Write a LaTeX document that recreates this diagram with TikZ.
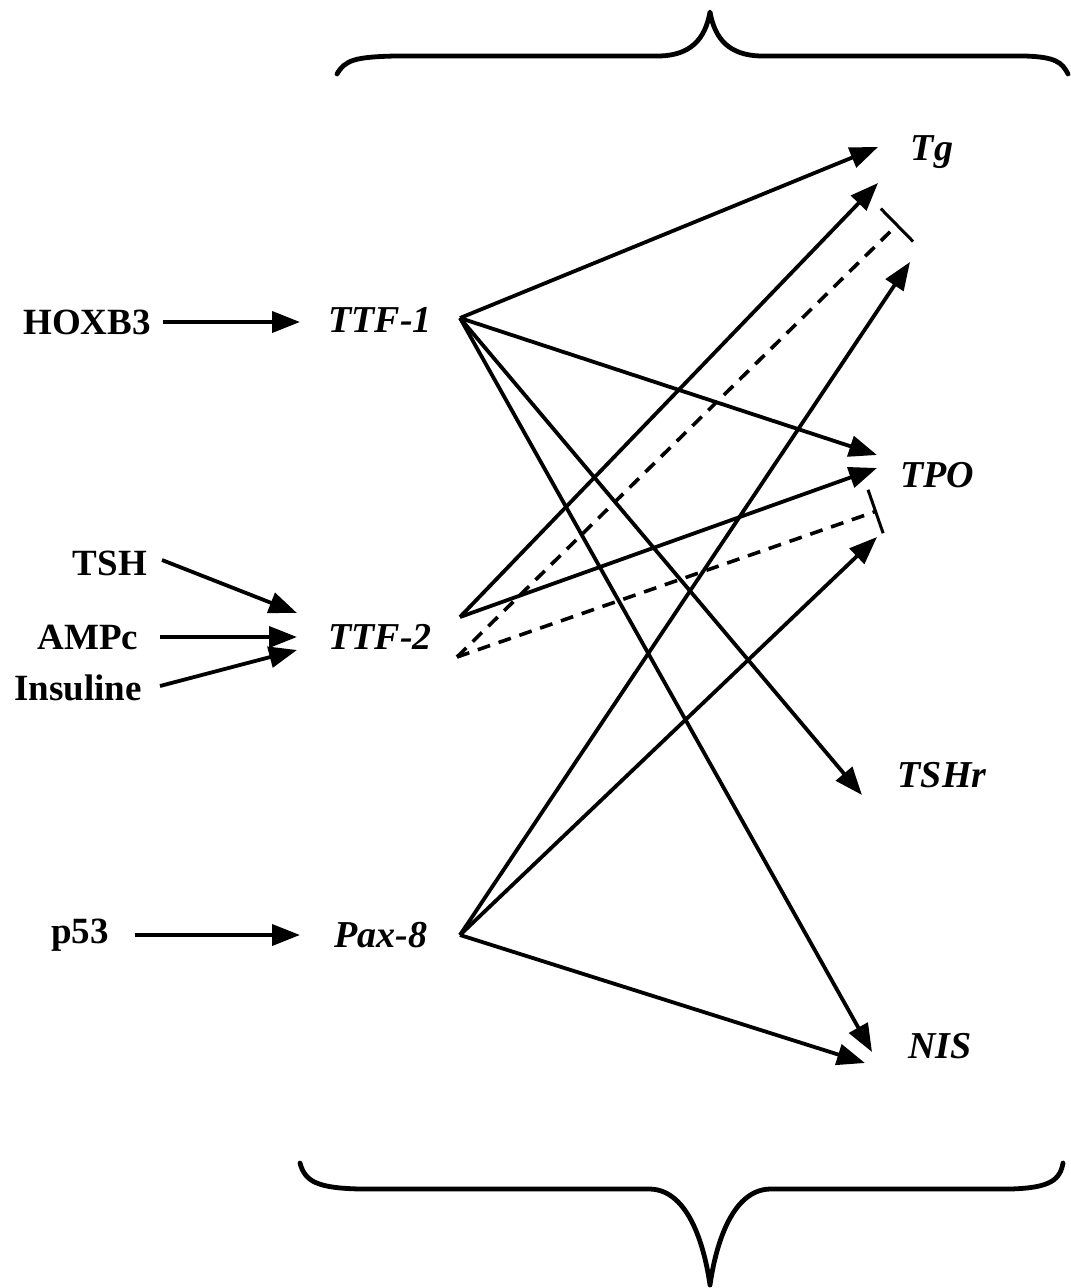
\documentclass[tikz,border=0pt]{standalone}
\usepackage{fontspec}
\setmainfont{Liberation Serif}
\usetikzlibrary{arrows.meta}
\begin{document}
\begin{tikzpicture}[x=1pt,y=-1pt]
\tikzset{
  lab/.style={font=\fontsize{37}{42}\selectfont\bfseries, inner sep=0pt},
  gene/.style={font=\fontsize{38}{44}\selectfont\bfseries\itshape, inner sep=0pt},
  act/.style={line width=3.8pt, -{Triangle[length=28pt,width=21pt]}},
  inh/.style={line width=3.6pt, dash pattern=on 13pt off 9pt, -{Bar[width=46pt,line width=3pt]}},
  brace/.style={line width=4.8pt, line cap=round, line join=round}
}
\useasboundingbox (0,0) rectangle (1071,1288);
% braces
\draw[brace] (337,74) .. controls (345,60) and (355,57) .. (395,56) -- (660,56)
  .. controls (690,55) and (705,40) .. (710,12)
  .. controls (715,40) and (730,55) .. (760,56) -- (1025,56)
  .. controls (1055,57) and (1062,62) .. (1068,74);
\draw[brace] (300,1163) .. controls (305,1182) and (318,1188) .. (360,1189) -- (650,1189)
  .. controls (690,1190) and (705,1250) .. (710,1285)
  .. controls (715,1250) and (730,1190) .. (770,1189) -- (1010,1189)
  .. controls (1050,1188) and (1060,1180) .. (1063,1163);
% nodes
\node[lab] (hox) at (87,322) {HOXB3};
\node[gene] (ttf1) at (380,320) {TTF-1};
\node[lab] (tsh) at (110,563) {TSH};
\node[lab] (ampc) at (88,637) {AMPc};
\node[lab] (ins) at (78,688) {Insuline};
\node[gene] (ttf2) at (380,637) {TTF-2};
\node[lab] (p53) at (80,935) {p53};
\node[gene] (pax8) at (381,935) {Pax-8};
\node[gene] (tg) at (932,152) {Tg};
\node[gene] (tpo) at (937,475) {TPO};
\node[gene] (tshr) at (942,775) {TSHr};
\node[gene] (nis) at (940,1046) {NIS};
% connector points
\coordinate (hoxo) at (163,322);
\coordinate (t1in) at (300,322);
\coordinate (tsho) at (162,560);
\coordinate (ampco) at (160,637);
\coordinate (inso) at (160,686);
\coordinate (t2inA) at (297,613);
\coordinate (t2inB) at (297,637);
\coordinate (t2inC) at (297,650);
\coordinate (p53o) at (135,935);
\coordinate (p8in) at (300,935);
\coordinate (t1o) at (460,318);
\coordinate (t2o) at (460,617);
\coordinate (t2d) at (457,657);
\coordinate (p8o) at (460,935);
\coordinate (tgA) at (878,147);
\coordinate (tgB) at (878,183);
\coordinate (tgC) at (910,262);
\coordinate (tgI) at (898,224);
\coordinate (tpoA) at (877,455);
\coordinate (tpoB) at (877,468);
\coordinate (tpoI) at (877,511);
\coordinate (tpoC) at (877,537);
\coordinate (tshrA) at (862,795);
\coordinate (nisA) at (872,1052);
\coordinate (nisB) at (865,1063);
% inputs
\draw[act] (hoxo) -- (t1in);
\draw[act] (tsho) -- (t2inA);
\draw[act] (ampco) -- (t2inB);
\draw[act] (inso) -- (t2inC);
\draw[act] (p53o) -- (p8in);
% TTF-1 targets
\draw[act] (t1o) -- (tgA);
\draw[act] (t1o) -- (tpoA);
\draw[act] (t1o) -- (tshrA);
\draw[act] (t1o) -- (nisA);
% TTF-2 targets
\draw[act] (t2o) -- (tgB);
\draw[act] (t2o) -- (tpoB);
\draw[inh] (t2d) -- (tgI);
\draw[inh] (t2d) -- (tpoI);
% Pax-8 targets
\draw[act] (p8o) -- (tgC);
\draw[act] (p8o) -- (tpoC);
\draw[act] (p8o) -- (nisB);
\end{tikzpicture}
\end{document}
